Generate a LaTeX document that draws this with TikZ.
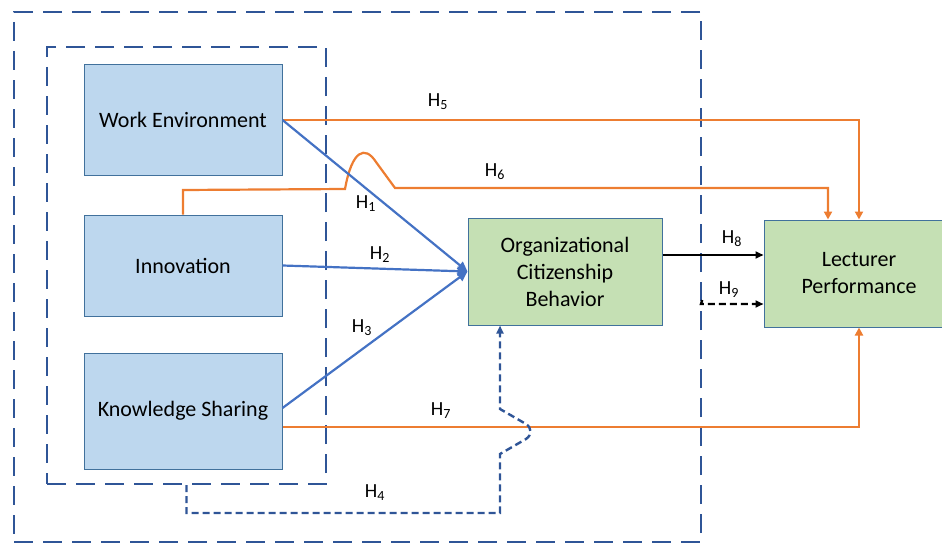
\documentclass[tikz,border=0pt]{standalone}
\usepackage{fontspec}
\setmainfont{Carlito}
\usetikzlibrary{arrows.meta}
\definecolor{boxfill}{HTML}{BDD7EE}
\definecolor{greenfill}{HTML}{C5E0B4}
\definecolor{boxline}{HTML}{41719C}
\definecolor{orng}{HTML}{ED7D31}
\definecolor{blu}{HTML}{4472C4}
\definecolor{frm}{HTML}{2F5597}
\begin{document}
\begin{tikzpicture}[x=1pt,y=-1pt,
  varbox/.style={draw=boxline, line width=1pt, fill=boxfill, inner sep=0pt, align=center,
    font=\fontsize{22}{27}\selectfont},
  greenbox/.style={varbox, fill=greenfill},
  frame/.style={draw=frm, line width=2.4pt, dash pattern=on 19pt off 10pt, inner sep=0pt},
  orangearrow/.style={draw=orng, line width=2.2pt, -{Triangle[length=8pt,width=8pt]}},
  bluearrow/.style={draw=blu, line width=2.2pt, -{Triangle[length=10pt,width=9pt]}},
  blackarrow/.style={draw=black, line width=2.2pt, -{Triangle[length=8pt,width=7pt]}},
  dasharrow/.style={line width=2.4pt, dash pattern=on 7pt off 4pt, -{Triangle[length=8pt,width=7pt]}},
  hlabel/.style={font=\fontsize{20}{24}\selectfont, inner sep=0pt}
]
\useasboundingbox (0,0) rectangle (942,543);

% frames
\node[frame, minimum width=687pt, minimum height=530pt] (outer) at (357.5,277) {};
\node[frame, minimum width=279pt, minimum height=437pt] (inner) at (186.5,265.5) {};

% boxes
\node[varbox, minimum width=198pt, minimum height=110pt] (we) at (183,120) {Work Environment};
\node[varbox, minimum width=198pt, minimum height=101pt] (inn) at (183,265.5) {Innovation};
\node[varbox, minimum width=198pt, minimum height=116pt] (ks) at (183,411) {Knowledge Sharing};
\node[greenbox, minimum width=194pt, minimum height=107pt] (ocb) at (565,271.5) {Organizational\\Citizenship\\Behavior};
\node[greenbox, minimum width=190pt, minimum height=107pt] (lp) at (859,273.5) {Lecturer\\Performance};

% H5
\draw[orangearrow] (we.east) -| (lp.north);
% H6
\draw[orangearrow] (inn.north) -- (183,190) -- (345,189)
  .. controls (352,150) and (365,145) .. (376,162) -- (395,188) -| ([xshift=-31pt]lp.north);
% H7
\coordinate (h7a) at ([yshift=-16pt]ks.east);
\draw[orangearrow] (h7a) -| (lp.south);

% H1-H3
\draw[bluearrow] (we.east) -- (ocb.west);
\draw[bluearrow] (inn.east) -- (ocb.west);
\draw[bluearrow] ([yshift=3pt]ks.east) -- (ocb.west);

% H8
\coordinate (h8a) at ([yshift=16.5pt]ocb.east);
\draw[blackarrow] (h8a) -- (h8a -| lp.west);
% H9
\coordinate (h9a) at ([yshift=-23pt]outer.east);
\coordinate (h9b) at (701,304);
\draw[dasharrow, draw=black] (h9a) -- (h9b) -- (h9b -| lp.west);

% H4
\coordinate (h4t) at ([xshift=-65pt]ocb.south);
\draw[dasharrow, draw=frm] (inner.south) -- (186.5,513) -- (500,513) -- (500,454) -- (526,439)
  .. controls (532,435) and (532,428) .. (526,424) -- (500,409) -- (h4t);

% labels
\node[hlabel] (l5) at (438,102) {H\textsubscript{5}};
\node[hlabel] (l6) at (495,172) {H\textsubscript{6}};
\node[hlabel] (l1) at (366,204) {H\textsubscript{1}};
\node[hlabel] (l2) at (380,255) {H\textsubscript{2}};
\node[hlabel] (l3) at (362,328) {H\textsubscript{3}};
\node[hlabel] (l7) at (441,411) {H\textsubscript{7}};
\node[hlabel] (l4) at (375,493) {H\textsubscript{4}};
\node[hlabel] (l8) at (732,239) {H\textsubscript{8}};
\node[hlabel] (l9) at (729,290) {H\textsubscript{9}};
\end{tikzpicture}
\end{document}
